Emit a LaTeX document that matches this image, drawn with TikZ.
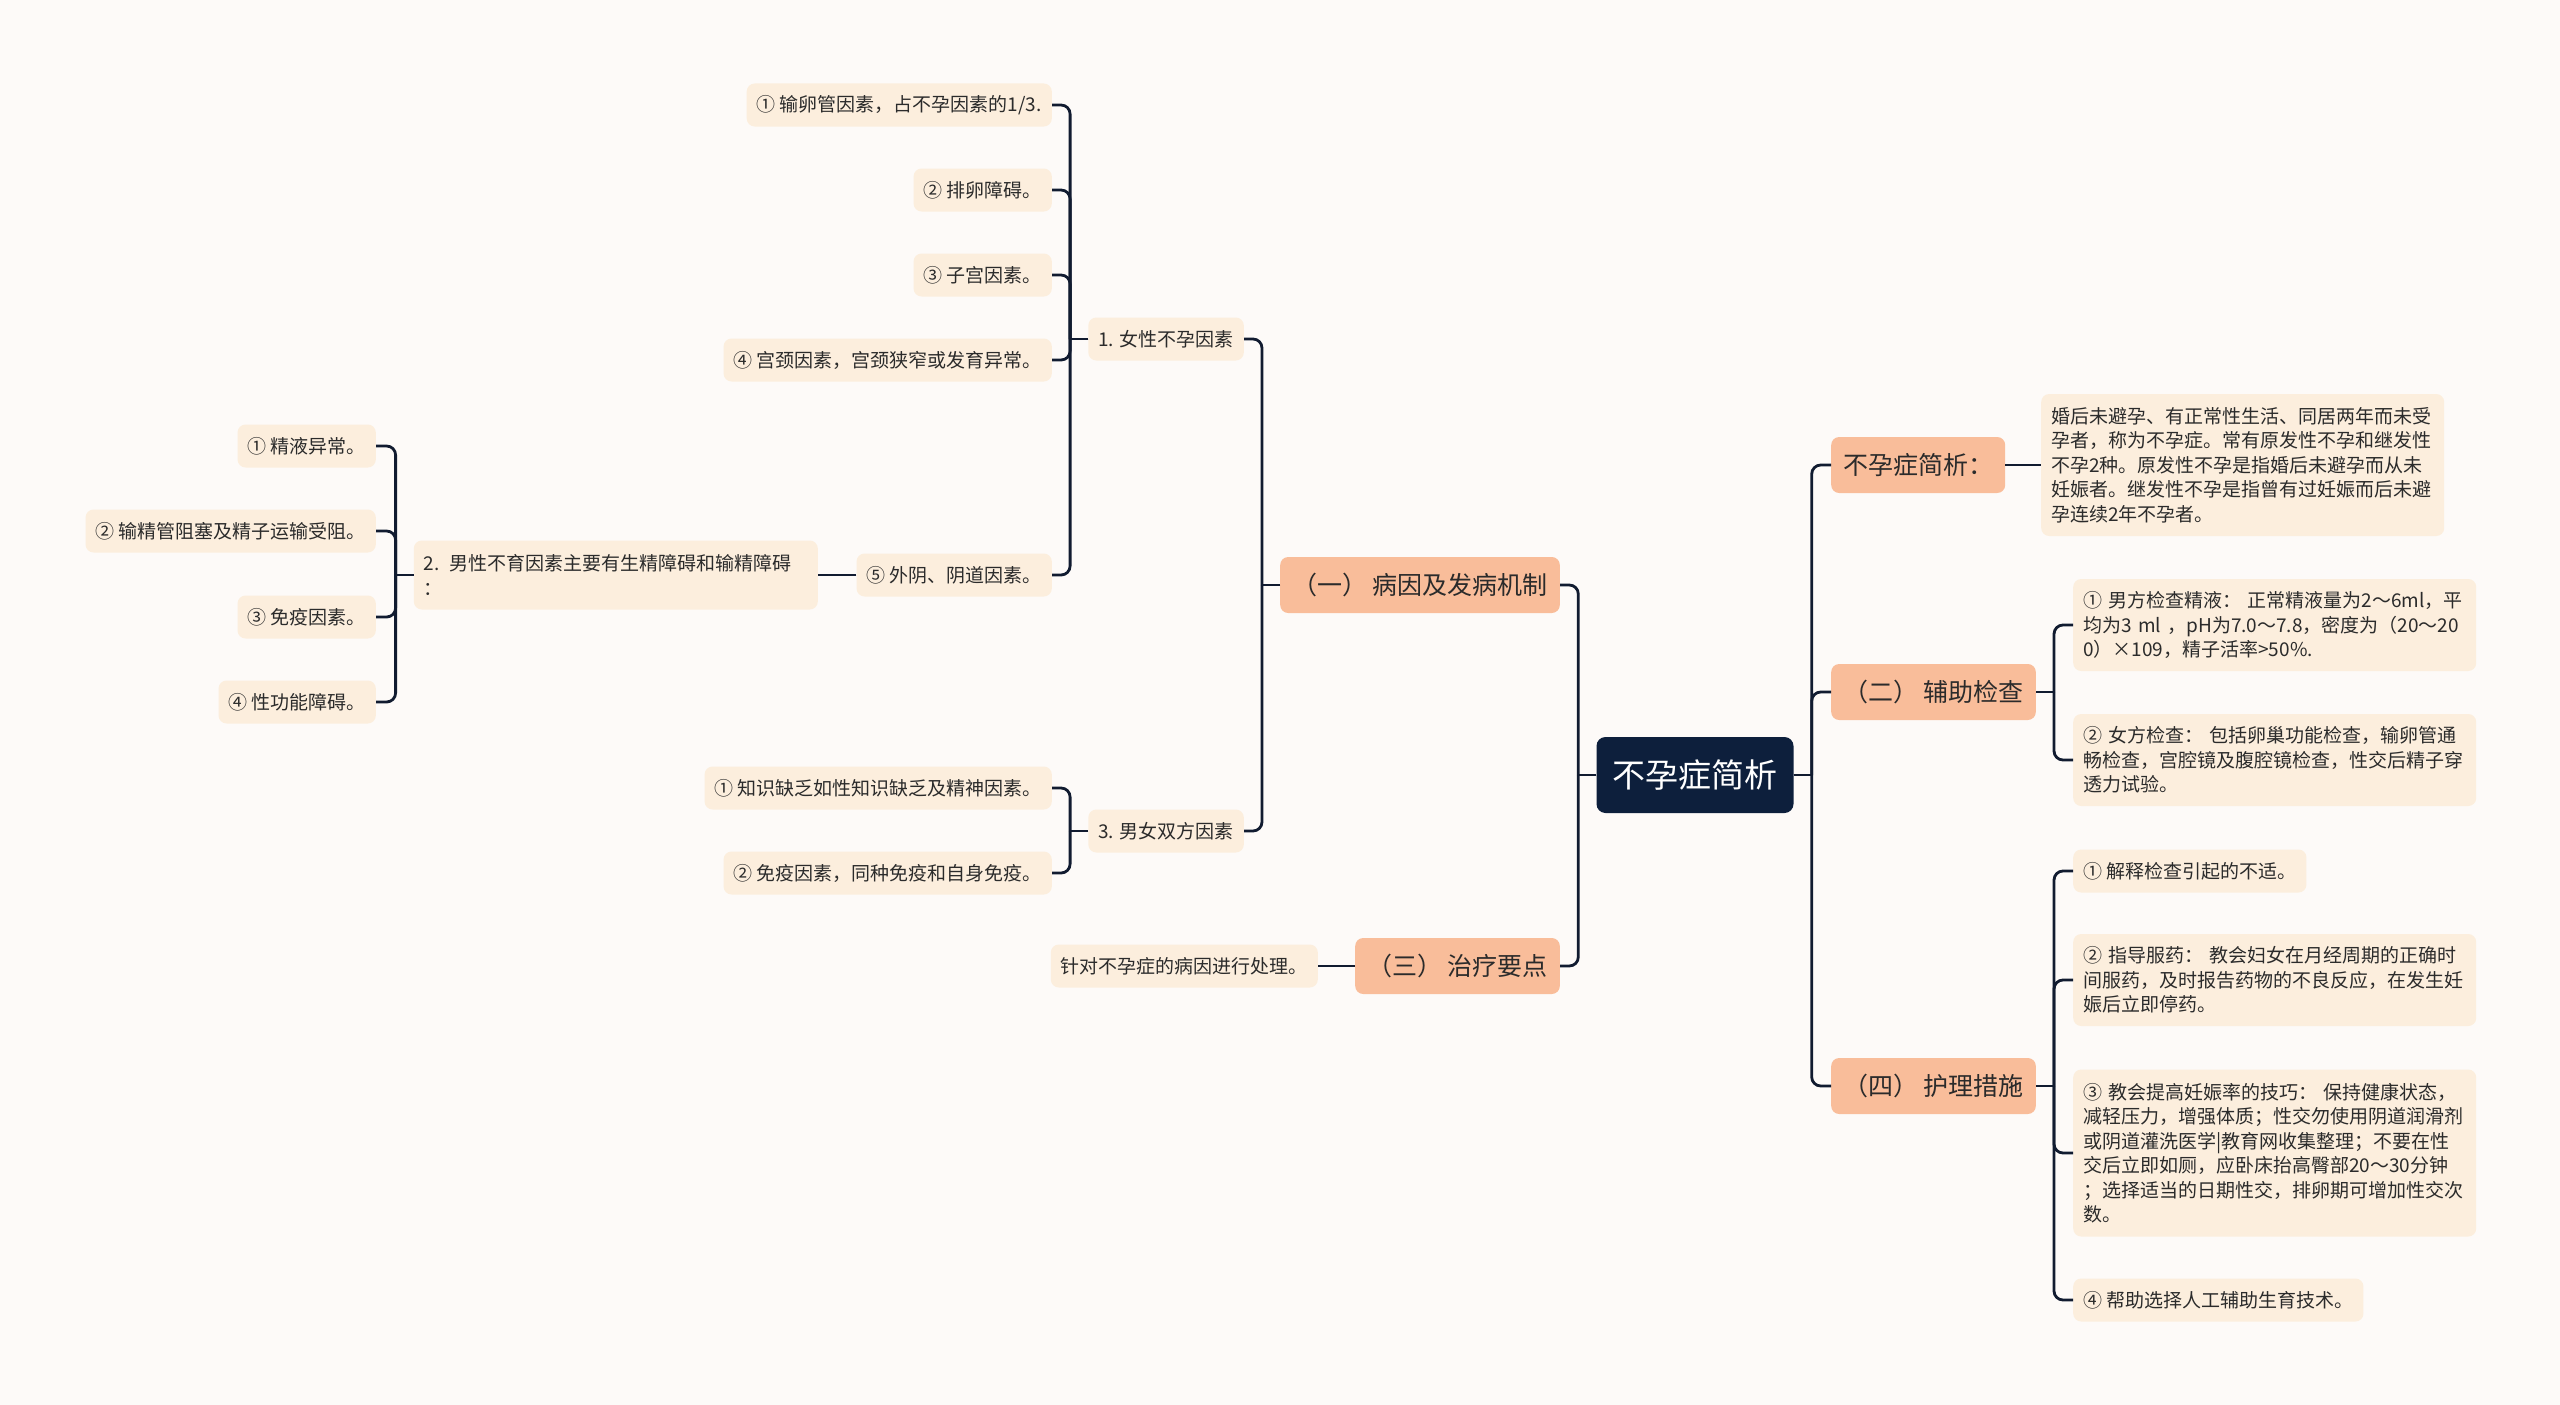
\documentclass[tikz,border=0pt]{standalone}
\usepackage{fontspec}
\setmainfont{Noto Sans CJK SC}
\usetikzlibrary{calc}
\definecolor{bg}{HTML}{FDFAF8}
\definecolor{cream}{HTML}{FCEEDD}
\definecolor{peach}{HTML}{F9BD9A}
\definecolor{navy}{HTML}{0D1F3C}
\definecolor{linec}{HTML}{111B30}
\definecolor{txt}{HTML}{2B2B2B}
\newcommand\lconn[2]{\draw[conn] (#1.west) -- ++(-18,0); \draw[conn, rounded corners=9pt] ($(#1.west)+(-18,0)$) |- (#2.east);}
\newcommand\rconn[2]{\draw[conn] (#1.east) -- ++(18,0); \draw[conn, rounded corners=9pt] ($(#1.east)+(18,0)$) |- (#2.west);}
\begin{document}
\begin{tikzpicture}[x=1pt,y=-1pt,
 small/.style={fill=cream, rounded corners=8pt, inner xsep=10pt, inner ysep=0pt, minimum height=43pt, text=txt, font=\fontsize{19pt}{24.5pt}\selectfont},
 multi/.style={small, align=left, text width=383pt},
 mainbox/.style={fill=peach, rounded corners=8pt, inner xsep=12pt, inner ysep=0pt, minimum height=56pt, text=txt, font=\fontsize{25pt}{30pt}\selectfont},
 rootbox/.style={fill=navy, rounded corners=9pt, inner xsep=16pt, inner ysep=0pt, minimum height=76pt, text=white, font=\fontsize{33pt}{40pt}\selectfont},
 conn/.style={draw=linec, line width=2.8pt},
]
\fill[bg] (0,0) rectangle (2560,1405);
\useasboundingbox (0,0) rectangle (2560,1405);

% root
\node[rootbox] (root) at (1695,775) {不孕症简析};

% left main
\node[mainbox, anchor=east] (L1) at (1560,585) {（一） 病因及发病机制};
\node[mainbox, anchor=east] (L3) at (1560,966) {（三） 治疗要点};

\node[small, anchor=east] (g1) at (1244,339) {1. 女性不孕因素};
\node[small, anchor=east] (g3) at (1244,831) {3. 男女双方因素};

\node[small, anchor=east] (f1) at (1052,105) {① 输卵管因素，占不孕因素的1/3.};
\node[small, anchor=east] (f2) at (1052,190) {② 排卵障碍。};
\node[small, anchor=east] (f3) at (1052,275) {③ 子宫因素。};
\node[small, anchor=east] (f4) at (1052,360) {④ 宫颈因素，宫颈狭窄或发育异常。};
\node[small, anchor=east] (f5) at (1052,575) {⑤ 外阴、阴道因素。};

\node[small, align=left, text width=384pt, minimum height=69pt, anchor=east] (m) at (818,575) {2. 男性不育因素主要有生精障碍和输精障碍\\：};
\node[small, anchor=east] (m1) at (376,446) {① 精液异常。};
\node[small, anchor=east] (m2) at (376,531) {② 输精管阻塞及精子运输受阻。};
\node[small, anchor=east] (m3) at (376,617) {③ 免疫因素。};
\node[small, anchor=east] (m4) at (376,702) {④ 性功能障碍。};

\node[small, anchor=east] (b1) at (1052,788) {① 知识缺乏如性知识缺乏及精神因素。};
\node[small, anchor=east] (b2) at (1052,873) {② 免疫因素，同种免疫和自身免疫。};

\node[small, anchor=east] (t1) at (1318,966) {针对不孕症的病因进行处理。};

% right main
\node[mainbox, anchor=west] (R0) at (1831,465) {不孕症简析：};
\node[mainbox, anchor=west] (R2) at (1831,692) {（二） 辅助检查};
\node[mainbox, anchor=west] (R4) at (1831,1086) {（四） 护理措施};

\node[multi, minimum height=142pt, anchor=west] (def) at (2041,465) {婚后未避孕、有正常性生活、同居两年而未受\\孕者，称为不孕症。常有原发性不孕和继发性\\不孕2种。原发性不孕是指婚后未避孕而从未\\妊娠者。继发性不孕是指曾有过妊娠而后未避\\孕连续2年不孕者。};

\node[multi, minimum height=92pt, anchor=west] (e1) at (2073,625) {① 男方检查精液： 正常精液量为2～6ml，平\\均为3 ml ，pH为7.0～7.8，密度为（20～20\\0）×109，精子活率>50\%.};
\node[multi, minimum height=92pt, anchor=west] (e2) at (2073,760) {② 女方检查： 包括卵巢功能检查，输卵管通\\畅检查，宫腔镜及腹腔镜检查，性交后精子穿\\透力试验。};

\node[small, anchor=west] (n1) at (2073,871) {① 解释检查引起的不适。};
\node[multi, minimum height=92pt, anchor=west] (n2) at (2073,980) {② 指导服药： 教会妇女在月经周期的正确时\\间服药，及时报告药物的不良反应，在发生妊\\娠后立即停药。};
\node[multi, minimum height=167pt, anchor=west] (n3) at (2073,1153) {③ 教会提高妊娠率的技巧： 保持健康状态，\\减轻压力，增强体质；性交勿使用阴道润滑剂\\或阴道灌洗医学|教育网收集整理；不要在性\\交后立即如厕，应卧床抬高臀部20～30分钟\\；选择适当的日期性交，排卵期可增加性交次\\数。};
\node[small, anchor=west] (n4) at (2073,1300) {④ 帮助选择人工辅助生育技术。};

% connectors left
\lconn{root}{L1}
\lconn{root}{L3}
\lconn{L1}{g1}
\lconn{L1}{g3}
\lconn{g1}{f1}
\lconn{g1}{f2}
\lconn{g1}{f3}
\lconn{g1}{f4}
\lconn{g1}{f5}
\draw[conn] (f5.west) -- (m.east);
\lconn{m}{m1}
\lconn{m}{m2}
\lconn{m}{m3}
\lconn{m}{m4}
\lconn{g3}{b1}
\lconn{g3}{b2}
\draw[conn] (L3.west) -- (t1.east);

% connectors right
\rconn{root}{R0}
\rconn{root}{R2}
\rconn{root}{R4}
\draw[conn] (R0.east) -- (def.west);
\rconn{R2}{e1}
\rconn{R2}{e2}
\rconn{R4}{n1}
\rconn{R4}{n2}
\rconn{R4}{n3}
\rconn{R4}{n4}
\end{tikzpicture}
\end{document}
